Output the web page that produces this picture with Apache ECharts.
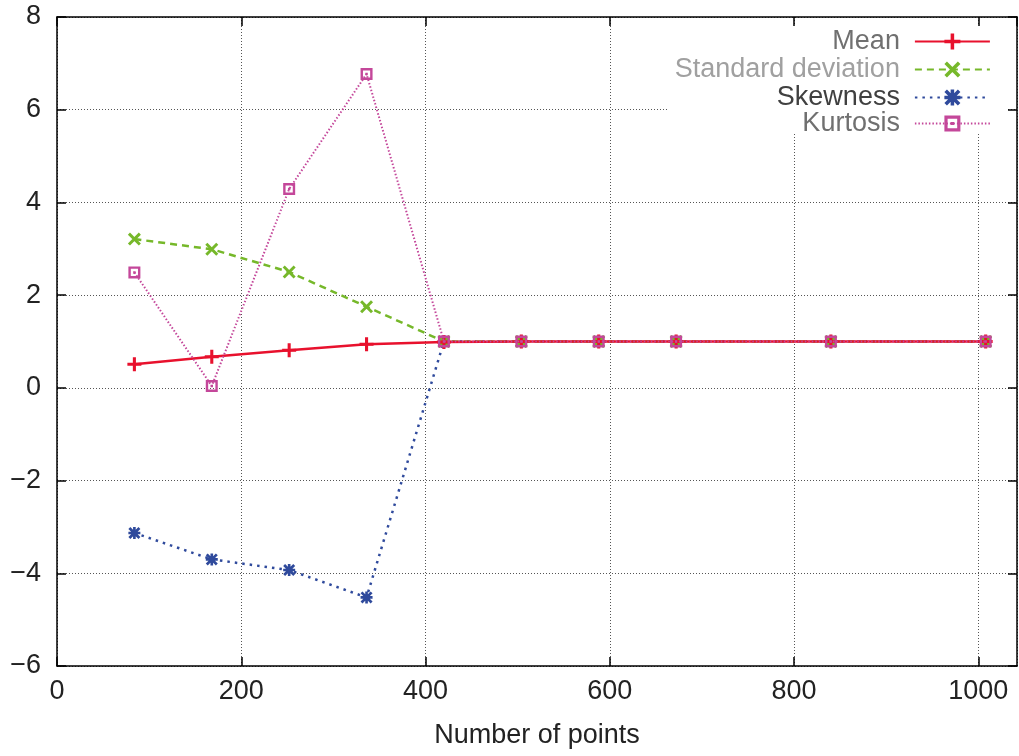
<!DOCTYPE html>
<html>
<head>
<meta charset="utf-8">
<script src="https://cdn.jsdelivr.net/npm/echarts@6/dist/echarts.min.js"></script>
<style>
  html, body { margin: 0; padding: 0; background: #fff; }
  #main { width: 1019px; height: 756px; }
</style>
</head>
<body>
<div id="main"></div>
<script>
(function () {

var points = [84, 168, 252, 336, 420, 504, 588, 672, 840, 1008];
var meanVals = [0.51, 0.67, 0.81, 0.94, 0.99, 1, 1, 1, 1, 1];
var stdVals = [3.21, 2.99, 2.5, 1.75, 1.0, 1, 1, 1, 1, 1];
var skewVals = [-3.13, -3.7, -3.93, -4.52, 1.0, 1, 1, 1, 1, 1];
var kurtVals = [2.49, 0.04, 4.29, 6.77, 1.0, 1, 1, 1, 1, 1];
var seriesNames = ['Mean', 'Standard deviation', 'Skewness', 'Kurtosis'];

var FONT = 'Liberation Sans';

// gnuplot-like point symbols
var plusSym = 'path://M3.9,0H6.1V3.9H10V6.1H6.1V10H3.9V6.1H0V3.9H3.9Z';
var crossSym = 'path://M0,1.6L1.6,0L10,8.4L8.4,10Z M8.4,0L10,1.6L1.6,10L0,8.4Z';
var starSym = 'path://M0,1.6L1.6,0L10,8.4L8.4,10Z M8.4,0L10,1.6L1.6,10L0,8.4Z M3.9,0H6.1V3.9H10V6.1H6.1V10H3.9V6.1H0V3.9H3.9Z';
var boxSym = 'path://M0,0H10V10H0Z M2,2V8H8V2Z M4,4H6V6H4Z';

function pairs(vals) {
    return points.map(function (x, i) { return [x, vals[i]]; });
}

var myChart = echarts.init(document.getElementById('main'), null, { renderer: 'canvas' });

var gridLine = { show: true, lineStyle: { color: '#555', type: [1, 2], width: 1 } };
var frameLine = { show: true, onZero: false, lineStyle: { color: '#000', width: 1.5 } };
var innerTick = { show: true, inside: true, length: 9, lineStyle: { color: '#000', width: 1.5 } };

function legendAt(name, top, color) {
    return {
        data: [name],
        right: 28,
        top: top,
        orient: 'vertical',
        align: 'right',
        padding: 0,
        itemWidth: 75,
        itemHeight: 20,
        itemGap: 0,
        selectedMode: false,
        lineStyle: { width: 2.2 },
        textStyle: { color: color, fontSize: 27, fontFamily: FONT, padding: [0, 10, 0, 0] }
    };
}

var option = {
    animation: false,
    backgroundColor: '#fff',
    grid: { left: 57, right: 2, top: 17, bottom: 90, containLabel: false },
    graphic: [{
        type: 'rect',
        z: 1,
        shape: { x: 668, y: 26, width: 340, height: 108 },
        style: { fill: '#fff' }
    }],
    legend: [
        legendAt('Mean', 28, '#707070'),
        legendAt('Standard deviation', 56, '#a0a0a0'),
        legendAt('Skewness', 84, '#404040'),
        legendAt('Kurtosis', 110, '#707070')
    ],
    xAxis: [{
        type: 'value',
        min: 0,
        max: 1042,
        interval: 200,
        name: 'Number of points',
        nameLocation: 'middle',
        nameGap: 56,
        nameTextStyle: { color: '#222', fontSize: 27, fontFamily: FONT },
        axisLine: frameLine,
        axisTick: innerTick,
        axisLabel: {
            color: '#222', fontSize: 27, fontFamily: FONT, margin: 12, showMaxLabel: false,
            formatter: function (v) { return String(v); }
        },
        splitLine: gridLine
    }, {
        type: 'value',
        position: 'top',
        min: 0,
        max: 1042,
        interval: 200,
        axisLine: frameLine,
        axisTick: innerTick,
        axisLabel: { show: false },
        splitLine: { show: false }
    }],
    yAxis: [{
        type: 'value',
        min: -6,
        max: 8,
        interval: 2,
        axisLine: frameLine,
        axisTick: innerTick,
        axisLabel: {
            color: '#222', fontSize: 27, fontFamily: FONT, margin: 16,
            formatter: function (v) { return String(v).replace('-', '\u2212'); }
        },
        splitLine: gridLine
    }, {
        type: 'value',
        position: 'right',
        min: -6,
        max: 8,
        interval: 2,
        axisLine: frameLine,
        axisTick: innerTick,
        axisLabel: { show: false },
        splitLine: { show: false }
    }],
    series: [{
        name: seriesNames[0],
        type: 'line',
        data: pairs(meanVals),
        symbol: plusSym,
        symbolSize: 14,
        itemStyle: { color: '#e8112d', borderWidth: 0 },
        lineStyle: { color: '#e8112d', width: 2.5, type: 'solid' },
        z: 5
    }, {
        name: seriesNames[1],
        type: 'line',
        data: pairs(stdVals),
        symbol: crossSym,
        symbolSize: 13,
        itemStyle: { color: '#76b82a', borderWidth: 0 },
        lineStyle: { color: '#76b82a', width: 2.5, type: [7, 5] },
        z: 4
    }, {
        name: seriesNames[2],
        type: 'line',
        data: pairs(skewVals),
        symbol: starSym,
        symbolSize: 12,
        itemStyle: { color: '#2f4a9c', borderWidth: 0 },
        lineStyle: { color: '#2f4a9c', width: 2.5, type: [2.5, 5] },
        z: 3
    }, {
        name: seriesNames[3],
        type: 'line',
        data: pairs(kurtVals),
        symbol: boxSym,
        symbolSize: 12,
        itemStyle: { color: '#c4479a', borderWidth: 0 },
        lineStyle: { color: '#c4479a', width: 2, type: [1.5, 2] },
        z: 6
    }]
};

myChart.setOption(option);
window.addEventListener('resize', myChart.resize);

})();
</script>
</body>
</html>
